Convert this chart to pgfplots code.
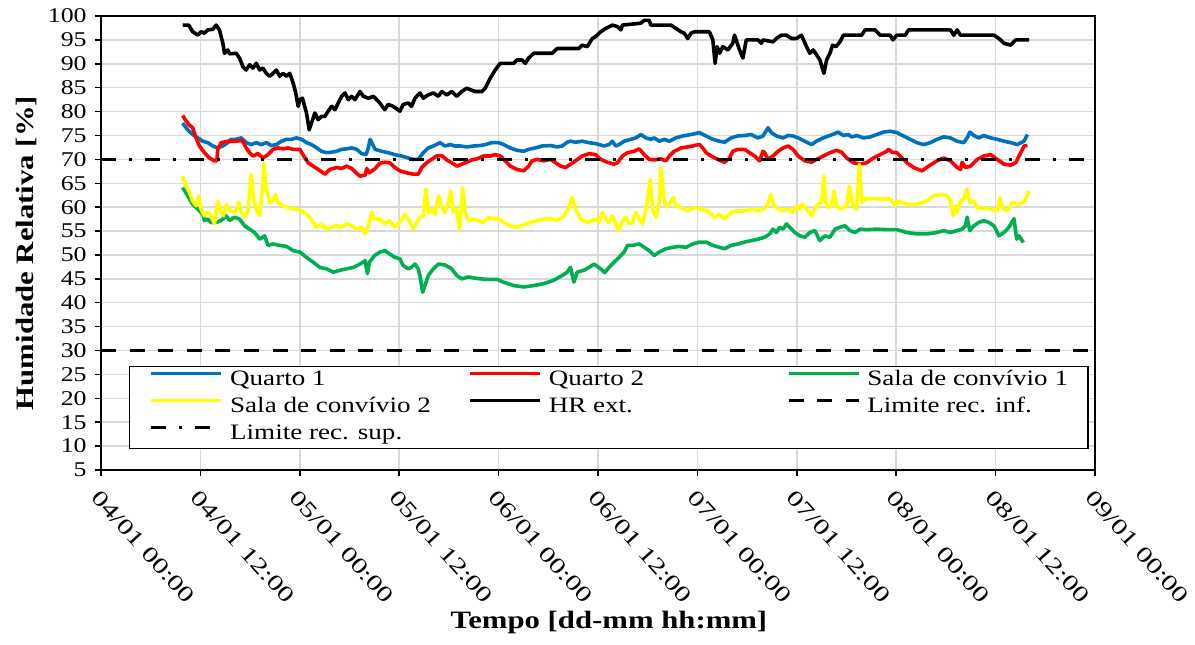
\documentclass[border=0pt]{standalone}
\usepackage{fontspec}
\setmainfont{Liberation Serif}[FakeStretch=1.23]
\newfontfamily\xtickfont{Liberation Serif}[FakeStretch=1.35]
\usepackage{pgfplots}
\pgfplotsset{compat=1.18}
\definecolor{cBlue}{RGB}{0,112,192}
\definecolor{cRed}{RGB}{255,0,0}
\definecolor{cGreen}{RGB}{0,176,80}
\definecolor{cYellow}{RGB}{255,255,0}
\definecolor{cGrid}{RGB}{217,217,217}
\begin{document}
\begin{tikzpicture}
\begin{axis}[
  scale only axis, width=497pt, height=227pt,
  xmin=0, xmax=120, ymin=5, ymax=100,
  xtick={0,12,...,120},
  xticklabels={04/01 00:00,04/01 12:00,05/01 00:00,05/01 12:00,06/01 00:00,06/01 12:00,07/01 00:00,07/01 12:00,08/01 00:00,08/01 12:00,09/01 00:00},
  ytick={5,10,...,100},
  grid=major, major grid style={cGrid, line width=0.75pt},
  axis line style={black, line width=0.75pt},
  tick style={black, line width=0.75pt},
  tick align=outside, tick pos=left, major tick length=3pt,
  /pgf/number format/assume math mode=true,
  yticklabel style={font=\fontsize{10.5}{12}\selectfont, inner sep=0pt},
  yticklabel shift=4pt,
  xticklabel style={font=\xtickfont\fontsize{11}{13}\selectfont, rotate=-48, anchor=north west, inner sep=0pt},
  xticklabel shift=6pt,
  xlabel={Tempo [dd-mm hh:mm]},
  xlabel style={font=\bfseries\fontsize{12.5}{15}\selectfont, at={(axis description cs:0.511,-0.311)}, anchor=north, inner sep=0pt},
  ylabel={Humidade Relativa [\%]},
  ylabel style={font=\bfseries\fontsize{12.5}{15}\selectfont, at={(axis description cs:-0.064,0.478)}, anchor=south, inner sep=0pt},
  legend columns=3,
  legend cell align=left,
  legend style={at={(0.028,0.046)}, anchor=south west, draw=black, line width=0.75pt,
    font=\fontsize{11}{13}\selectfont, inner xsep=10pt, inner ysep=1.5pt, row sep=2.5pt,
    nodes={inner sep=0pt, text height=8pt, text depth=3pt}},
  legend image code/.code={\draw[#1] (0pt,3.5pt) -- (35pt,3.5pt); \path (38.5pt,0pt);},
  every axis plot/.append style={line width=1.8pt, line join=round},
]
\addplot[cBlue] coordinates {(9.86,77.6)(10.46,76.2)(11.07,75.2)(11.68,74.5)(12.28,73.8)(12.89,73.5)(13.49,72.8)(14.10,72.4)(14.71,72.8)(15.31,73.5)(15.72,74.2)(16.32,74.2)(16.93,74.5)(17.53,73.5)(18.14,73.1)(18.75,73.5)(19.35,73.1)(19.96,73.5)(20.56,72.9)(21.17,73.1)(21.78,73.8)(22.38,74.2)(22.99,74.2)(23.59,74.5)(24.20,74.2)(24.81,73.5)(25.41,73.1)(26.02,72.4)(26.62,71.7)(27.23,71.4)(27.84,71.5)(28.44,71.7)(29.05,72.1)(29.65,72.2)(30.26,72.4)(30.87,72.1)(31.47,71.2)(32.0,71.0)(32.28,72.4)(32.48,74.2)(32.81,73.1)(33.09,72.1)(33.86,71.7)(34.67,71.4)(35.47,71.0)(36.28,70.7)(37.09,70.3)(37.70,70.0)(38.30,70.0)(38.91,71.4)(39.51,72.4)(40.12,72.8)(40.93,73.5)(41.53,72.8)(42.14,73.1)(42.75,72.8)(43.35,72.8)(44.16,72.6)(44.97,72.8)(45.78,72.9)(46.38,73.1)(47.19,73.5)(48.0,73.5)(48.60,73.1)(49.41,72.4)(50.22,71.9)(51.03,71.7)(51.63,72.1)(52.44,72.4)(53.25,72.8)(54.26,72.9)(55.07,72.6)(55.67,72.8)(56.28,73.6)(56.68,73.8)(57.29,73.6)(58.10,73.8)(58.91,73.5)(59.71,73.3)(60.73,72.8)(61.33,73.1)(61.74,73.8)(62.14,72.8)(62.55,73.1)(63.15,73.8)(63.96,74.2)(64.57,74.5)(65.17,75.2)(65.78,74.5)(66.38,74.2)(66.79,74.5)(67.39,73.8)(68.0,74.2)(68.61,73.8)(69.41,74.5)(70.22,74.9)(71.23,75.2)(72.24,75.6)(73.05,74.9)(73.86,74.2)(74.67,73.8)(75.27,73.6)(76.08,74.5)(76.89,74.9)(77.70,75.0)(78.50,75.2)(79.31,74.5)(79.92,74.9)(80.52,76.6)(80.93,75.6)(81.53,74.9)(82.34,74.5)(82.95,75.0)(83.55,74.9)(84.16,74.5)(84.97,73.8)(85.78,73.1)(86.38,73.8)(87.19,74.5)(88.0,75.0)(89.01,75.7)(89.62,75.0)(90.22,75.2)(90.63,74.7)(91.23,75.0)(92.04,74.5)(92.85,74.7)(93.66,75.2)(94.46,75.7)(95.27,75.9)(96.08,75.6)(96.89,74.9)(97.70,74.2)(98.50,73.5)(99.31,73.1)(100.12,73.5)(100.93,74.2)(101.74,74.7)(102.54,74.5)(103.35,73.8)(104.16,73.5)(104.56,74.5)(104.89,75.7)(105.37,75.0)(105.98,74.5)(106.58,75.0)(107.39,74.5)(108.20,74.2)(109.01,73.8)(109.82,73.5)(110.62,73.1)(111.43,73.8)(111.84,75.2)};
\addlegendentry{\makebox[119pt][l]{Quarto 1}}
\addplot[cRed] coordinates {(9.86,79.2)(10.18,78.3)(10.59,77.3)(11.07,76.6)(11.47,74.5)(11.88,72.8)(12.48,71.4)(13.09,70.3)(13.70,69.7)(13.98,69.7)(14.10,72.1)(14.50,73.5)(15.31,73.8)(16.32,73.8)(17.05,74.0)(17.53,72.4)(17.94,71.4)(18.34,70.7)(18.95,71.2)(19.55,70.3)(20.16,71.0)(20.77,72.1)(21.37,72.4)(21.98,72.2)(22.58,72.4)(23.19,72.1)(24.0,72.1)(24.48,70.7)(25.01,69.3)(25.61,68.6)(26.22,67.9)(27.03,66.9)(27.63,67.9)(28.44,68.3)(29.05,68.1)(29.65,68.6)(30.26,68.1)(30.79,67.2)(31.27,66.5)(31.88,66.7)(32.08,68.1)(32.40,67.2)(33.05,68.0)(33.66,69.2)(34.26,69.4)(34.87,69.3)(35.47,68.3)(36.08,67.6)(36.89,67.2)(37.70,66.9)(38.30,66.9)(38.71,68.3)(39.31,69.3)(39.92,70.0)(40.52,70.7)(41.13,70.8)(41.74,69.9)(42.34,69.3)(42.95,68.6)(43.55,69.0)(44.16,69.4)(44.77,69.9)(45.37,70.1)(46.18,70.7)(46.99,70.7)(47.59,71.0)(48.20,70.7)(48.81,69.7)(49.41,68.6)(50.22,67.9)(51.03,67.6)(51.63,68.6)(52.04,69.7)(52.64,70.0)(53.45,69.7)(54.26,70.0)(54.87,69.3)(55.47,68.6)(56.08,68.3)(56.68,69.0)(57.29,69.7)(58.10,70.7)(58.91,71.2)(59.71,71.0)(60.32,70.0)(61.13,69.4)(61.94,69.0)(62.34,69.3)(62.95,70.7)(63.56,71.4)(64.36,71.7)(64.97,72.2)(65.58,71.0)(66.18,70.0)(66.79,69.9)(67.60,70.1)(68.20,69.7)(68.61,70.7)(69.21,71.7)(70.02,72.4)(70.83,72.6)(71.64,72.9)(72.24,73.1)(72.65,72.4)(73.05,71.4)(73.66,70.7)(74.46,70.0)(75.27,69.4)(75.88,70.3)(76.28,71.7)(76.89,72.1)(77.70,72.1)(78.30,71.4)(78.91,70.7)(79.51,69.7)(79.92,71.7)(80.12,71.4)(80.52,70.0)(81.13,70.7)(81.74,71.7)(82.34,72.4)(82.95,72.8)(83.55,72.1)(84.16,70.7)(84.97,69.7)(85.78,69.4)(86.38,70.0)(87.19,70.7)(88.0,71.4)(88.81,71.9)(89.41,71.5)(90.02,70.3)(90.83,69.3)(91.64,69.0)(92.44,69.3)(93.25,70.3)(94.06,71.0)(94.87,71.7)(95.07,72.1)(95.47,71.5)(96.08,71.4)(96.69,70.3)(97.29,69.3)(98.10,68.3)(99.11,67.6)(99.92,68.6)(100.93,69.7)(101.74,70.3)(102.54,69.7)(103.35,68.3)(103.76,67.9)(103.96,69.4)(104.36,68.3)(104.97,68.6)(105.78,70.0)(106.58,70.7)(107.39,71.0)(108.20,70.0)(109.01,69.0)(109.82,68.8)(110.42,69.3)(110.83,70.7)(111.43,72.8)(111.84,72.9)};
\addlegendentry{\makebox[119pt][l]{Quarto 2}}
\addplot[cGreen] coordinates {(9.86,64.1)(10.46,62.4)(11.07,60.6)(11.68,59.6)(12.28,58.5)(12.48,57.2)(12.89,57.5)(13.29,56.8)(13.90,56.8)(14.50,57.2)(15.11,58.2)(15.51,57.2)(16.12,57.9)(16.73,57.5)(17.33,56.1)(17.94,55.4)(18.54,54.7)(19.15,53.3)(19.76,54.0)(19.96,53.0)(20.16,52.0)(20.77,52.3)(21.57,52.0)(22.38,51.8)(23.19,50.9)(24.0,50.6)(24.81,49.5)(25.61,48.5)(26.42,47.4)(27.23,47.1)(28.04,46.4)(28.85,46.8)(29.65,47.1)(30.46,47.4)(31.27,48.1)(31.88,48.8)(32.16,46.1)(32.40,48.5)(33.05,49.9)(33.66,50.6)(34.26,50.9)(34.87,50.2)(35.47,49.5)(36.08,49.2)(36.48,47.8)(37.09,47.1)(37.49,47.4)(37.90,48.1)(38.30,47.1)(38.50,45.7)(38.83,42.2)(39.11,43.6)(39.51,45.7)(40.12,47.1)(40.73,48.1)(41.53,47.9)(42.34,47.1)(42.95,45.7)(43.55,45.0)(44.36,45.4)(44.97,45.2)(45.78,45.0)(46.58,44.9)(47.80,44.9)(48.60,44.3)(49.82,43.6)(51.03,43.3)(52.24,43.6)(53.45,44.0)(54.66,44.7)(55.67,45.7)(56.28,46.4)(56.68,47.4)(57.09,44.3)(57.49,46.4)(58.30,46.8)(58.91,47.4)(59.51,48.1)(60.32,47.1)(60.81,46.3)(61.33,47.4)(61.94,48.5)(62.55,49.5)(63.15,50.6)(63.56,52.0)(64.16,52.0)(64.97,52.3)(65.58,51.6)(66.18,50.9)(66.79,49.9)(67.39,50.6)(68.20,51.3)(69.01,51.6)(69.82,51.8)(70.63,51.6)(71.43,52.3)(72.24,52.7)(73.05,52.7)(73.86,52.0)(74.67,51.6)(75.27,51.3)(76.08,52.0)(76.89,52.3)(77.70,52.7)(78.50,53.0)(79.31,53.3)(80.12,53.7)(80.73,54.4)(81.13,55.4)(81.53,54.7)(81.94,55.8)(82.34,55.4)(82.75,56.5)(83.15,55.8)(83.76,54.7)(84.36,54.0)(84.97,53.7)(85.57,54.7)(86.18,55.1)(86.79,53.0)(87.39,54.0)(88.0,53.7)(88.61,55.4)(89.21,55.8)(89.82,56.1)(90.42,55.1)(91.03,54.7)(91.64,55.4)(92.44,55.3)(93.66,55.4)(94.87,55.3)(96.08,55.3)(97.29,54.7)(98.50,54.4)(99.72,54.4)(100.93,54.7)(101.74,55.1)(102.54,54.7)(103.35,55.1)(103.96,55.4)(104.36,56.1)(104.56,57.9)(104.89,55.1)(105.37,56.1)(105.98,56.8)(106.58,57.2)(107.19,56.8)(107.80,56.1)(108.40,54.0)(109.01,54.7)(109.61,55.8)(110.22,57.6)(110.54,53.3)(110.83,54.0)(111.35,52.6)};
\addlegendentry{Sala de convívio 1}
\addplot[cYellow] coordinates {(9.86,66.5)(10.26,64.4)(10.67,63.1)(11.07,61.3)(11.47,60.3)(11.80,62.4)(12.08,59.6)(12.48,58.2)(12.89,58.9)(13.29,58.2)(13.70,56.5)(14.10,61.3)(14.50,58.9)(14.79,58.2)(15.11,60.6)(15.51,59.6)(15.92,58.9)(16.32,59.2)(16.65,61.0)(16.93,58.9)(17.33,57.9)(17.74,59.2)(18.14,66.9)(18.42,61.7)(18.75,59.6)(19.15,58.2)(19.47,63.4)(19.68,69.2)(19.96,63.8)(20.36,61.0)(20.77,61.3)(21.09,62.7)(21.37,61.0)(21.98,60.3)(22.79,59.7)(23.59,59.6)(24.20,59.2)(24.81,58.5)(25.21,57.9)(25.61,56.8)(26.02,55.8)(26.62,56.5)(27.23,55.4)(27.84,55.8)(28.44,56.1)(29.05,55.8)(29.65,56.5)(30.26,56.1)(30.87,55.4)(31.47,55.8)(31.88,54.4)(32.28,56.1)(32.69,58.9)(33.05,57.5)(33.66,57.5)(34.26,56.5)(34.87,57.2)(35.47,55.8)(36.08,56.8)(36.69,58.5)(37.09,57.5)(37.70,55.4)(38.10,56.8)(38.50,57.9)(38.91,58.2)(39.23,63.8)(39.51,58.9)(39.92,59.6)(40.32,58.5)(40.73,62.4)(41.13,59.9)(41.53,58.9)(41.94,61.0)(42.22,63.4)(42.54,58.9)(42.87,59.6)(43.27,55.4)(43.68,64.1)(43.96,58.9)(44.36,57.2)(44.97,57.5)(45.57,57.2)(46.18,56.8)(46.79,57.9)(47.39,57.5)(48.0,57.6)(48.60,56.8)(49.41,56.1)(50.22,55.8)(51.03,56.3)(51.84,56.8)(52.64,57.2)(53.45,57.5)(54.26,57.6)(55.07,57.2)(55.88,58.2)(56.48,59.9)(56.89,62.0)(57.29,59.6)(57.90,57.5)(58.70,56.8)(59.71,57.5)(60.12,56.8)(60.53,58.9)(60.93,57.5)(61.33,56.8)(61.74,58.2)(62.14,56.5)(62.55,55.1)(62.95,57.2)(63.35,57.9)(63.76,56.5)(64.16,56.8)(64.57,58.9)(64.97,57.5)(65.37,56.5)(65.78,59.6)(66.06,62.4)(66.30,65.8)(66.59,59.6)(66.99,57.9)(67.39,61.0)(67.60,68.3)(67.92,62.4)(68.20,60.3)(68.61,60.6)(69.13,62.0)(69.41,60.3)(70.02,59.9)(70.83,59.2)(71.64,59.9)(72.44,59.6)(73.25,59.2)(74.06,57.9)(74.67,58.5)(75.27,57.5)(76.08,58.9)(76.89,59.2)(77.70,59.2)(78.50,59.6)(79.31,59.2)(80.12,59.7)(80.52,60.6)(80.85,62.7)(81.25,60.3)(81.74,59.7)(82.34,59.2)(82.95,59.6)(83.55,58.9)(83.96,60.3)(84.36,59.6)(84.64,60.6)(85.17,59.6)(85.78,58.2)(86.38,60.3)(86.99,61.0)(87.27,66.5)(87.52,61.0)(87.80,59.9)(88.20,60.3)(88.49,63.4)(88.81,60.3)(89.21,59.6)(90.02,60.3)(90.34,64.4)(90.75,60.3)(91.23,59.6)(91.56,69.0)(91.84,61.0)(92.24,61.7)(93.25,61.8)(94.06,61.7)(95.27,61.7)(95.88,60.3)(96.28,61.3)(97.29,60.6)(98.50,60.6)(99.71,61.3)(100.52,62.4)(101.53,62.7)(102.14,62.4)(102.54,61.3)(102.87,58.2)(103.15,60.3)(103.35,58.9)(103.76,61.3)(104.16,61.7)(104.56,63.8)(104.89,61.0)(105.37,61.3)(105.78,59.9)(106.58,59.7)(107.39,59.6)(108.20,59.2)(108.52,62.0)(108.93,59.6)(109.41,59.2)(110.02,61.0)(110.62,60.6)(111.43,61.0)(112.04,63.4)};
\addlegendentry{\makebox[119pt][l]{Sala de convívio 2}}
\addplot[black] coordinates {(9.86,98.1)(10.59,98.1)(11.07,96.7)(11.68,96.0)(12.08,96.7)(12.48,96.4)(12.89,97.1)(13.49,97.2)(13.90,98.1)(14.30,97.1)(14.71,94.3)(14.91,92.2)(15.31,92.9)(15.51,92.1)(16.32,92.2)(16.73,91.2)(17.13,89.4)(17.53,88.7)(17.94,89.8)(18.34,89.1)(18.75,90.1)(19.15,88.7)(19.55,89.1)(19.96,88.0)(20.36,87.4)(20.77,88.0)(21.17,88.7)(21.57,87.4)(21.98,88.0)(22.38,87.4)(22.79,88.0)(23.19,86.0)(23.51,83.9)(23.80,81.1)(24.0,82.5)(24.32,82.8)(24.81,79.7)(25.13,76.2)(25.41,77.6)(25.82,79.7)(26.22,78.3)(26.62,79.0)(27.03,79.0)(27.43,80.1)(27.84,81.1)(28.24,80.4)(28.64,81.8)(29.05,83.2)(29.45,83.9)(29.86,82.5)(30.26,83.2)(30.66,82.5)(31.27,84.2)(31.67,83.2)(32.28,82.8)(32.89,83.2)(33.66,81.8)(34.26,80.4)(34.67,81.5)(35.27,81.1)(36.08,80.1)(36.48,81.5)(37.09,81.8)(37.49,81.1)(37.90,82.8)(38.50,83.9)(38.91,82.8)(39.51,83.5)(40.12,83.9)(40.73,83.2)(41.13,84.2)(41.74,83.5)(42.34,84.2)(42.95,83.2)(43.55,84.2)(44.16,84.9)(44.56,84.6)(45.17,84.2)(45.98,84.2)(46.38,84.9)(46.99,87.0)(47.59,88.7)(48.20,90.1)(49.82,90.1)(50.22,90.8)(50.83,90.8)(51.23,90.1)(51.63,91.2)(52.24,92.2)(54.46,92.2)(55.07,93.2)(57.69,93.2)(58.10,93.9)(58.70,93.6)(59.31,95.3)(59.72,95.7)(60.32,96.7)(60.93,97.4)(61.74,98.1)(62.34,97.8)(62.75,97.1)(62.95,98.1)(65.17,98.5)(65.58,99.1)(66.18,99.1)(66.38,98.1)(68.81,98.1)(69.41,97.4)(70.02,96.7)(70.42,96.4)(70.83,95.3)(71.23,96.4)(71.64,96.7)(73.45,96.7)(73.86,95.0)(74.14,90.1)(74.38,93.6)(74.67,92.2)(75.07,93.6)(75.68,92.9)(76.28,94.3)(76.48,96.0)(76.81,94.3)(77.09,92.9)(77.49,91.2)(77.90,95.0)(79.31,95.0)(79.72,94.3)(79.92,95.0)(81.13,94.6)(81.53,95.3)(82.14,96.0)(82.75,96.0)(83.35,95.3)(83.96,95.3)(84.56,96.0)(85.17,93.6)(85.57,92.2)(85.98,92.9)(86.38,91.9)(86.79,90.8)(87.27,88.0)(87.60,90.8)(88.0,92.2)(88.32,93.9)(88.73,93.6)(89.21,94.6)(89.62,96.0)(91.84,96.0)(92.24,97.1)(93.45,97.1)(94.06,96.0)(95.27,96.0)(95.60,95.0)(96.08,96.0)(97.09,96.0)(97.49,97.1)(102.54,97.1)(102.95,96.0)(103.35,97.1)(103.76,96.0)(107.80,96.0)(108.40,95.3)(109.01,94.3)(109.82,93.9)(110.42,95.0)(112.04,95.0)};
\addlegendentry{\makebox[119pt][l]{HR ext.}}
\addplot[black, line width=1.75pt, dash pattern=on 7.5pt off 6.8pt] coordinates {(0,30) (120,30)};
\addlegendentry{Limite rec. inf.}
\addplot[black, line width=1.75pt, dash pattern=on 7.5pt off 6.5pt on 1.5pt off 6.5pt] coordinates {(0,70) (120,70)};
\addlegendentry{Limite rec. sup.}
\end{axis}
\pgfresetboundingbox
\path[use as bounding box] (-50.5pt,-87pt) rectangle (547pt,235pt);
\end{tikzpicture}
\end{document}
